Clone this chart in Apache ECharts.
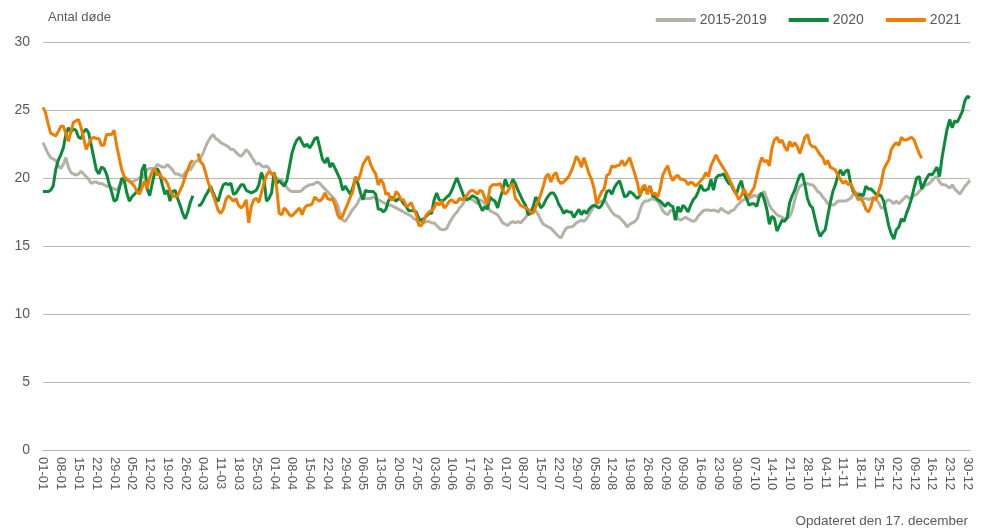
<!DOCTYPE html>
<html>
<head>
<meta charset="utf-8">
<script src="https://cdn.jsdelivr.net/npm/echarts@6/dist/echarts.min.js"></script>
<style>
  html, body { margin: 0; padding: 0; background: #fff; }
  #chart { width: 988px; height: 532px; }
</style>
</head>
<body>
<div id="chart"></div>
<script>
// dage i skudår (01-01 .. 31-12)
const monthDays = [31, 29, 31, 30, 31, 30, 31, 31, 30, 31, 30, 31];
const categories = [];
monthDays.forEach((n, m) => {
    for (let d = 1; d <= n; d++) {
        categories.push(String(d).padStart(2, '0') + '-' + String(m + 1).padStart(2, '0'));
    }
});

const yTicks = [0, 5, 10, 15, 20, 25, 30];

const avg2015_2019 = [
    22.6, 22.2, 21.8, 21.5, 21.4, 21.3, 20.9, 20.7, 21.0, 21.5,
    20.8, 20.4, 20.3, 20.2, 20.3, 20.5, 20.3, 20.1, 19.9, 19.6,
    19.7, 19.7, 19.6, 19.6, 19.5, 19.4, 19.4, 19.3, 19.2, 19.1,
    19.4, 19.6, 19.8, 19.85, 19.7, 19.7, 19.8, 19.9, 20.0, 20.0,
    20.3, 20.6, 20.7, 20.7, 20.7, 21.0, 20.9, 20.8, 20.8, 21.0,
    20.8, 20.6, 20.3, 20.3, 20.2, 20.1, 20.4, 20.6, 20.6, 20.9,
    21.2, 21.3, 21.5, 21.8, 22.3, 22.7, 23.0, 23.2, 22.9, 22.8,
    22.6, 22.5, 22.4, 22.3, 22.1, 22.1, 21.9, 21.7, 21.6, 21.8,
    22.1, 21.9, 21.6, 21.3, 21.0, 21.1, 20.9, 20.8, 20.9, 20.7,
    20.3, 20.1, 20.0, 19.9, 19.85, 19.6, 19.3, 19.1, 19.0, 19.0,
    19.0, 19.0, 19.1, 19.3, 19.4, 19.5, 19.5, 19.6, 19.7, 19.6,
    19.4, 19.2, 19.0, 18.8, 18.6, 18.4, 18.0, 17.4, 16.9, 16.8,
    17.1, 17.4, 17.7, 17.9, 18.2, 18.6, 18.6, 18.5, 18.5, 18.5,
    18.6, 18.5, 18.4, 18.3, 18.2, 18.1, 18.0, 18.0, 17.9, 17.8,
    17.7, 17.6, 17.5, 17.4, 17.3, 17.2, 17.0, 16.9, 16.8, 16.8,
    16.7, 16.8, 16.8, 16.7, 16.7, 16.5, 16.3, 16.2, 16.2, 16.3,
    16.7, 17.0, 17.3, 17.5, 17.8, 18.0, 18.3, 18.5, 18.5, 18.4,
    18.3, 18.1, 18.4, 18.3, 18.1, 17.9, 17.6, 17.5, 17.4, 17.3,
    17.0, 16.7, 16.6, 16.5, 16.7, 16.8, 16.7, 16.8, 16.7, 16.9,
    17.1, 17.4, 17.6, 17.8, 17.6, 17.3, 16.9, 16.6, 16.5, 16.4,
    16.3, 16.1, 15.9, 15.7, 15.6, 16.0, 16.3, 16.4, 16.4, 16.5,
    16.7, 16.8, 16.9, 16.8, 17.0, 17.3, 17.6, 18.0, 18.1, 18.2,
    18.3, 18.4, 18.1, 17.8, 17.5, 17.3, 17.2, 17.1, 16.9, 16.7,
    16.4, 16.6, 16.7, 16.8, 17.0, 17.6, 18.1, 18.3, 18.3, 18.4,
    18.5, 18.4, 18.3, 18.0, 17.6, 17.4, 17.3, 17.6, 17.65, 17.4,
    17.0, 16.9, 17.0, 17.1, 17.0, 16.9, 16.8, 16.9, 17.2, 17.4,
    17.6, 17.65, 17.65, 17.6, 17.65, 17.6, 17.5, 17.8, 17.6, 17.5,
    17.4, 17.6, 17.65, 17.9, 18.1, 18.3, 18.4, 18.5, 18.5, 18.6,
    18.75, 18.6, 18.8, 18.9, 19.0, 18.5, 18.0, 17.7, 17.5, 17.3,
    17.2, 17.1, 17.0, 17.0, 17.2, 17.6, 18.4, 19.0, 19.4, 19.5,
    19.6, 19.6, 19.5, 19.5, 19.3, 19.0, 18.9, 18.6, 18.4, 18.1,
    18.1, 18.0, 18.1, 18.3, 18.3, 18.3, 18.3, 18.4, 18.5, 18.8,
    18.9, 18.9, 18.75, 18.5, 18.5, 18.4, 18.5, 18.5, 18.4, 18.2,
    17.8, 17.8, 18.3, 18.4, 18.3, 18.1, 18.3, 18.1, 18.3, 18.5,
    18.7, 18.5, 18.6, 18.7, 18.8, 19.0, 19.2, 19.4, 19.5, 19.6,
    19.8, 20.0, 20.1, 19.7, 19.5, 19.5, 19.4, 19.25, 19.5, 19.2,
    19.0, 18.8, 19.1, 19.4, 19.6, 19.85
];

const deaths2020 = [
    19.0, 19.0, 19.0, 19.1, 19.4, 20.6, 21.3, 21.7, 22.2, 23.2,
    23.7, 23.4, 23.6, 23.5, 23.0, 22.9, 23.4, 23.6, 23.3, 22.4,
    21.5, 20.6, 20.3, 20.8, 20.7, 20.3, 19.6, 19.0, 18.3, 18.4,
    19.2, 20.0, 19.8, 18.9, 18.3, 18.6, 18.8, 19.0, 19.2, 20.6,
    21.0, 19.2, 18.7, 19.6, 20.4, 20.7, 20.3, 19.5, 18.8, 19.1,
    18.3, 19.0, 19.1, 18.5, 18.0, 17.4, 17.0, 17.5, 18.2, 18.7,
    null, 18.0, 18.0, 18.3, 18.7, 19.0, 19.4, 18.9, 18.5, 18.3,
    19.0, 19.5, 19.6, 19.5, 19.6, 18.8, 18.9, 19.2, 19.5, 19.5,
    19.1, 19.0, 18.9, 19.0, 19.1, 19.5, 20.4, 19.9, 18.3, 18.5,
    18.9, 20.4, 19.6, 19.8, 19.6, 19.4, 19.8, 20.8, 21.8, 22.4,
    22.8, 23.0, 22.6, 22.3, 22.5, 22.2, 22.5, 22.9, 23.0, 22.2,
    21.4, 21.1, 21.5, 20.8, 21.1, 20.7, 20.3, 19.9, 19.1, 19.4,
    19.1, 18.8, 19.3, 20.0, 19.6, 18.9, 18.4, 19.1, 19.0, 19.0,
    19.0, 18.8, 17.7, 17.7, 17.5, 17.7, 18.3, 18.6, 18.5, 18.3,
    18.5, 18.4, 18.1, 17.9, 17.6, 17.6, 17.6, 17.5, 17.0, 16.9,
    17.0, 17.2, 17.4, 17.4, 18.4, 18.9, 18.4, 18.3, 18.4, 18.6,
    18.75, 19.1, 19.6, 20.0, 19.5, 19.0, 18.5, 18.4, 18.5, 18.7,
    18.6, 18.5, 18.0, 17.6, 17.9, 17.7, 18.6, 18.4, 18.3, 17.8,
    18.5, 19.1, 19.9, 19.4, 19.4, 19.9, 19.6, 19.1, 18.7, 18.3,
    18.0, 17.3, 17.4, 17.9, 18.6, 18.3, 17.8, 18.0, 18.4, 18.7,
    18.9, 18.9, 18.6, 18.1, 17.8, 17.4, 17.6, 17.5, 17.5, 17.1,
    17.4, 17.7, 17.3, 17.6, 17.4, 17.7, 17.9, 18.0, 17.9, 17.8,
    18.0, 18.4, 19.0, 19.1, 18.8, 19.3, 19.6, 19.8, 19.2, 18.6,
    18.7, 19.0, 18.9, 18.7, 18.5, 18.7, 19.2, 19.2, 19.0, 19.4,
    18.7, 18.6, 18.4, 18.3, 18.1, 17.9, 18.2, 18.0, 17.9, 16.9,
    17.9, 17.5, 18.0, 17.8, 17.5, 18.0, 18.4, 18.6, 19.0, 19.5,
    19.1, 19.1, 19.2, 19.9, 19.1, 20.0, 20.2, 20.2, 20.3, 19.9,
    19.6, 19.5, 19.1, 18.8, 19.4, 19.8, 18.9, 18.5, 18.0, 18.1,
    18.1, 17.9, 18.6, 18.9, 18.4, 17.7, 16.6, 17.2, 17.0, 16.1,
    16.5, 16.9, 16.8, 17.1, 18.2, 18.7, 19.1, 19.7, 20.2, 20.3,
    19.5, 18.5, 18.0, 17.8, 17.0, 16.2, 15.7, 16.0, 16.2, 17.2,
    18.2, 19.0, 19.5, 20.2, 20.6, 20.2, 20.5, 20.6, 19.6, 19.0,
    18.8, 18.7, 18.8, 18.7, 19.4, 19.2, 19.2, 19.0, 18.8, 18.75,
    18.7, 18.3, 17.4, 16.5, 15.9, 15.5, 16.2, 16.4, 17.0, 16.8,
    17.4, 17.9, 18.5, 19.3, 20.0, 20.1, 19.2, 19.6, 20.0, 20.3,
    20.2, 20.5, 20.8, 20.1, 21.5, 22.6, 23.6, 24.3, 23.7, 24.2,
    24.1, 24.5, 24.9, 25.7, 26.0, 25.9
];

const deaths2021 = [
    25.2, 24.8, 24.0, 23.3, 23.2, 23.1, 23.4, 23.8, 23.8, 23.3,
    22.7, 23.4, 24.1, 24.2, 24.3, 23.7, 22.9, 22.1, 22.5, 22.9,
    23.0, 22.9, 22.9, 22.4, 22.4, 23.2, 23.2, 23.2, 23.5, 22.4,
    21.5, 20.6, 20.1, 19.9, 19.8, 19.6, 19.4, 19.0, 18.8, 19.3,
    19.8, 19.2, 20.0, 20.5, 20.7, 20.2, 20.3, 20.0, 19.9, 19.6,
    19.1, 18.7, 18.6, 18.7, 19.1, 19.5, 20.1, 20.6, 21.1, 21.3,
    null, 21.8, 21.2, 21.0, 20.4, 19.7, 19.2, 18.75, 18.2, 17.6,
    17.4, 17.7, 18.4, 18.7, 18.5, 18.3, 18.5, 18.0, 17.8, 18.0,
    18.4, 16.7, 17.9, 18.4, 18.5, 18.2, 18.9, 19.6, 20.2, 20.5,
    20.3, 20.3, 19.3, 17.4, 17.3, 17.8, 17.6, 17.3, 17.2, 17.4,
    17.6, 17.8, 17.3, 17.8, 18.0, 18.0, 18.1, 18.6, 18.4, 18.3,
    18.5, 18.9, 18.5, 18.4, 18.5, 18.0, 17.3, 17.0, 17.2, 17.7,
    18.1, 18.6, 19.0, 20.1, 19.8, 20.3, 21.0, 21.3, 21.6, 21.0,
    20.6, 20.3, 19.5, 19.9, 19.6, 18.8, 18.9, 18.4, 18.4, 19.0,
    18.8, 18.4, 18.4, 17.9, 18.0, 18.2, 17.7, 17.3, 16.5, 16.5,
    16.9, 17.3, 17.5, 17.6, 17.8, 18.2, 18.0, 18.3, 17.8, 18.0,
    18.3, 18.4, 18.2, 18.2, 18.5, 18.4, 18.5, 18.75, 19.0, 19.1,
    19.0, 18.8, 19.1, 19.0, 18.5, 18.1, 19.3, 19.5, 19.5, 19.5,
    19.6, 19.1, 18.8, 19.0, 19.4, 19.6, 18.5, 18.3, 18.0, 17.9,
    17.8, 17.7, 17.5, 17.4, 17.9, 18.3, 18.8, 19.4, 20.1, 20.3,
    19.7, 20.2, 20.4, 19.8, 19.6, 19.7, 19.9, 20.1, 20.5, 21.0,
    21.6, 21.3, 20.8, 21.5, 20.9, 20.3, 19.9, 19.2, 18.1, 18.6,
    19.0, 19.2, 20.2, 20.3, 20.9, 20.8, 20.9, 20.95, 21.3, 20.9,
    21.2, 21.5, 20.9, 20.3, 19.7, 18.7, 19.3, 19.5, 18.8, 19.4,
    18.8, 18.9, 18.6, 19.2, 20.2, 20.6, 20.9, 20.2, 19.8, 20.1,
    20.2, 19.9, 19.9, 19.8, 19.5, 19.7, 19.6, 19.4, 19.6, 19.8,
    20.0, 20.4, 20.1, 20.9, 21.3, 21.7, 21.3, 21.0, 20.7, 20.4,
    20.0, 19.6, 19.2, 18.8, 18.4, 18.7, 19.2, 18.8, 18.7, 19.0,
    19.3, 20.1, 20.9, 21.5, 21.2, 21.3, 20.9, 22.2, 22.8, 23.0,
    22.6, 22.8, 22.3, 22.0, 22.7, 22.3, 22.6, 22.3, 21.8, 22.4,
    23.0, 23.2, 22.5, 22.3, 22.3, 22.0, 21.7, 21.5, 21.0, 21.3,
    20.8, 20.7, 20.6, 20.2, 19.9, 19.6, 19.8, 19.5, 19.6, 19.2,
    18.8, 18.4, 18.5, 18.2, 17.7, 17.5, 17.9, 18.6, 18.4, 19.0,
    19.6, 20.6, 21.0, 21.3, 22.1, 22.4, 22.6, 22.4, 23.0, 22.8,
    22.8, 22.9, 23.0, 22.8, 22.3, 21.8, 21.45
];

const textColor = '#595959';
const gridColor = '#b9b8a8';
const fontFamily = '"Liberation Sans Narrow", "Arial Narrow", "Liberation Sans", sans-serif';

const chart = echarts.init(document.getElementById('chart'));

const option = {
    animation: false,
    textStyle: { fontFamily: fontFamily, color: textColor },
    grid: {
        left: 43,
        right: 18,
        top: 42,
        bottom: 82
    },
    legend: {
        right: 22,
        top: 8,
        itemWidth: 40,
        itemHeight: 4,
        itemGap: 22,
        icon: 'rect',
        textStyle: { fontFamily: fontFamily, fontSize: 14, color: textColor, padding: [0, 0, 0, -1] },
        data: ['2015-2019', '2020', '2021']
    },
    graphic: [
        {
            type: 'text',
            left: 48,
            top: 11,
            style: { text: 'Antal døde', font: '13px ' + fontFamily, fill: textColor }
        },
        {
            type: 'text',
            right: 20,
            top: 514,
            style: { text: 'Opdateret den 17. december', font: '13.5px ' + fontFamily, fill: textColor }
        }
    ],
    xAxis: {
        type: 'category',
        boundaryGap: false,
        data: categories,
        axisLine: { show: true, lineStyle: { color: gridColor, width: 1 } },
        axisTick: { show: false },
        axisLabel: {
            interval: 6,
            rotate: -90,
            margin: 7,
            fontSize: 13,
            color: textColor,
            fontFamily: fontFamily
        },
        splitLine: { show: false }
    },
    yAxis: {
        type: 'value',
        min: yTicks[0],
        max: yTicks[yTicks.length - 1],
        interval: 5,
        axisLine: { show: false },
        axisTick: { show: false },
        axisLabel: {
            margin: 13,
            fontSize: 14,
            color: textColor,
            fontFamily: fontFamily
        },
        splitLine: { lineStyle: { color: gridColor, width: 1 } }
    },
    series: [
        {
            name: '2015-2019',
            type: 'line',
            data: avg2015_2019,
            showSymbol: false,
            color: '#b4b2a4',
            lineStyle: { width: 3 }
        },
        {
            name: '2020',
            type: 'line',
            data: deaths2020,
            showSymbol: false,
            color: '#0a8a3a',
            lineStyle: { width: 3 }
        },
        {
            name: '2021',
            type: 'line',
            data: deaths2021,
            showSymbol: false,
            color: '#f07c00',
            lineStyle: { width: 3 }
        }
    ]
};

chart.setOption(option);
</script>
</body>
</html>
